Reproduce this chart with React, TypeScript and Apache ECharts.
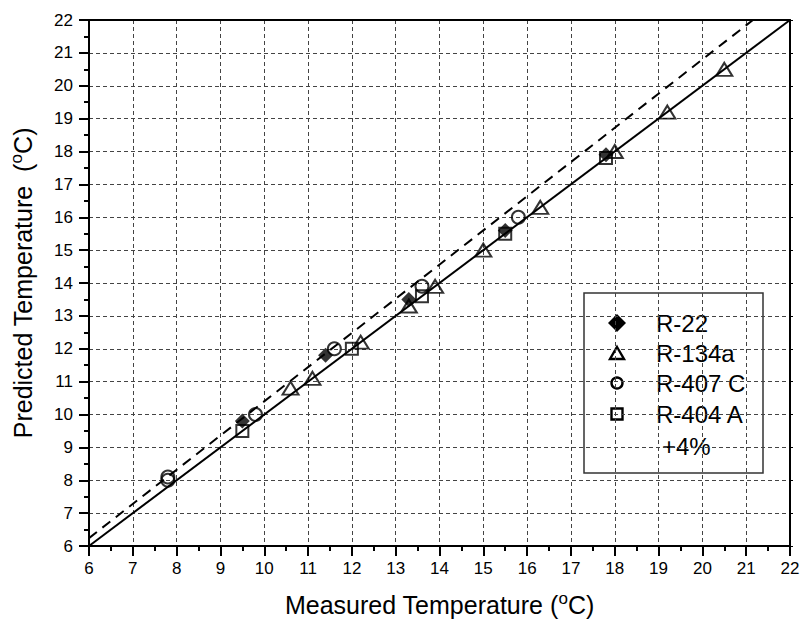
import React, { useEffect, useRef } from "react";
import * as echarts from "echarts";

const axisRange = [6, 22];
const r22X = [9.5, 11.4, 13.3, 15.5, 17.8];
const r22Y = [9.8, 11.8, 13.5, 15.6, 17.9];
const r134aX = [10.6, 11.1, 12.2, 13.3, 13.9, 15.0, 16.3, 18.0, 19.2, 20.5];
const r134aY = [10.8, 11.1, 12.2, 13.3, 13.9, 15.0, 16.3, 18.0, 19.2, 20.5];
const r407cX = [7.8, 7.8, 9.8, 11.6, 13.6, 15.8];
const r407cY = [8.1, 8.0, 10.0, 12.0, 13.9, 16.0];
const r404aX = [9.5, 12.0, 13.6, 15.5, 17.8];
const r404aY = [9.5, 12.0, 13.6, 15.5, 17.8];
const perfectLine = [[6, 6], [22, 22]];
const plus4Line = [[6, 6.24], [21.154, 22]];
const legendNames = ["R-22", "R-134a", "R-407 C", "R-404 A"];
const legendExtra = "+4%";

const pairs = (xs: number[], ys: number[]) => xs.map((x, i) => [x, ys[i]]);
const FONT = "Liberation Sans";

export default function App() {
  const ref = useRef<HTMLDivElement>(null);
  useEffect(() => {
    document.body.style.margin = "0";
    if (!ref.current) return;
    const chart = echarts.init(ref.current, null, { renderer: "svg" });
    const axisCommon = {
      type: "value" as const,
      min: axisRange[0],
      max: axisRange[1],
      interval: 1,
    };
    const lx = 617;
    const rows = [323, 353, 383, 414, 446];
    const supRich = { sup: { fontSize: 17, padding: [0, 0, 13, 0], color: "#000", fontFamily: FONT } };
    chart.setOption({
      animation: false,
      backgroundColor: "#fff",
      textStyle: { fontFamily: FONT },
      grid: { left: 87, right: 13, top: 20, bottom: 78 },
      xAxis: [
        {
          ...axisCommon,
          position: "bottom",
          name: "Measured Temperature ({sup|o}C)",
          nameLocation: "middle",
          nameGap: 44,
          nameTextStyle: { fontSize: 25, color: "#000", fontFamily: FONT, rich: supRich },
          axisLine: { show: true, lineStyle: { color: "#000", width: 2 } },
          axisTick: { show: true, length: 10, lineStyle: { color: "#000", width: 2 } },
          minorTick: { show: true, splitNumber: 2, length: 5, lineStyle: { color: "#000", width: 2 } },
          axisLabel: { fontSize: 17, color: "#000", margin: 14, fontFamily: FONT },
          splitLine: { show: true, lineStyle: { color: "#444", width: 1, type: [4, 3] } },
        },
        {
          ...axisCommon,
          position: "top",
          axisLine: { show: true, lineStyle: { color: "#000", width: 2 } },
          axisTick: { show: false },
          axisLabel: { show: false },
          splitLine: { show: false },
        },
      ],
      yAxis: [
        {
          ...axisCommon,
          position: "left",
          name: "Predicted Temperature  ({sup|o}C)",
          nameLocation: "middle",
          nameGap: 51,
          nameTextStyle: { fontSize: 25, color: "#000", fontFamily: FONT, rich: supRich },
          axisLine: { show: true, lineStyle: { color: "#000", width: 2 } },
          axisTick: { show: true, length: 10, lineStyle: { color: "#000", width: 2 } },
          minorTick: { show: true, splitNumber: 2, length: 5, lineStyle: { color: "#000", width: 2 } },
          axisLabel: { fontSize: 17, color: "#000", margin: 16, fontFamily: FONT },
          splitLine: { show: true, lineStyle: { color: "#444", width: 1, type: [4, 3] } },
        },
        {
          ...axisCommon,
          position: "right",
          axisLine: { show: true, lineStyle: { color: "#000", width: 2 } },
          axisTick: { show: true, length: 3, lineStyle: { color: "#000", width: 1 } },
          axisLabel: { show: false },
          splitLine: { show: false },
        },
      ],
      series: [
        {
          type: "line",
          data: perfectLine,
          symbol: "none",
          lineStyle: { color: "#000", width: 2 },
          z: 2,
        },
        {
          type: "line",
          data: plus4Line,
          symbol: "none",
          lineStyle: { color: "#000", width: 2, type: [10, 7] },
          z: 2,
        },
        {
          name: legendNames[1],
          type: "scatter",
          data: pairs(r134aX, r134aY),
          symbol: "triangle",
          symbolSize: [16, 13],
          itemStyle: { color: "rgba(0,0,0,0)", borderColor: "#000", borderWidth: 2 },
          z: 3,
        },
        {
          name: legendNames[3],
          type: "scatter",
          data: pairs(r404aX, r404aY),
          symbol: "rect",
          symbolSize: 12,
          itemStyle: { color: "rgba(0,0,0,0)", borderColor: "#000", borderWidth: 2 },
          z: 3,
        },
        {
          name: legendNames[2],
          type: "scatter",
          data: pairs(r407cX, r407cY),
          symbol: "circle",
          symbolSize: 13,
          itemStyle: { color: "rgba(0,0,0,0)", borderColor: "#000", borderWidth: 2 },
          z: 3,
        },
        {
          name: legendNames[0],
          type: "scatter",
          data: pairs(r22X, r22Y),
          symbol: "diamond",
          symbolSize: 15,
          itemStyle: { color: "#000" },
          z: 4,
        },
      ],
      graphic: [
        {
          type: "group",
          z: 100,
          children: [
            {
              type: "rect",
              shape: { x: 584, y: 293, width: 179, height: 180 },
              style: { fill: "#fff", stroke: "#333", lineWidth: 1.5 },
            },
            {
              type: "polygon",
              shape: { points: [[lx, rows[0] - 9], [lx + 9, rows[0]], [lx, rows[0] + 9], [lx - 9, rows[0]]] },
              style: { fill: "#000" },
            },
            {
              type: "polygon",
              shape: { points: [[lx, rows[1] - 6], [lx + 7, rows[1] + 6], [lx - 7, rows[1] + 6]] },
              style: { fill: "none", stroke: "#000", lineWidth: 2.4 },
            },
            {
              type: "circle",
              shape: { cx: lx, cy: rows[2], r: 5.5 },
              style: { fill: "none", stroke: "#000", lineWidth: 2.4 },
            },
            {
              type: "rect",
              shape: { x: lx - 5.5, y: rows[3] - 5.5, width: 11, height: 11 },
              style: { fill: "none", stroke: "#000", lineWidth: 2.4 },
            },
            ...legendNames.map((n, i) => ({
              type: "text",
              x: 656,
              y: rows[i],
              style: { text: n, fontSize: 24, fontFamily: FONT, fill: "#000", verticalAlign: "middle", align: "left" },
            })),
            {
              type: "text",
              x: 662,
              y: rows[4],
              style: { text: legendExtra, fontSize: 24, fontFamily: FONT, fill: "#000", verticalAlign: "middle", align: "left" },
            },
          ],
        },
      ],
    });
    return () => chart.dispose();
  }, []);
  return <div ref={ref} style={{ width: 803, height: 624 }} />;
}
